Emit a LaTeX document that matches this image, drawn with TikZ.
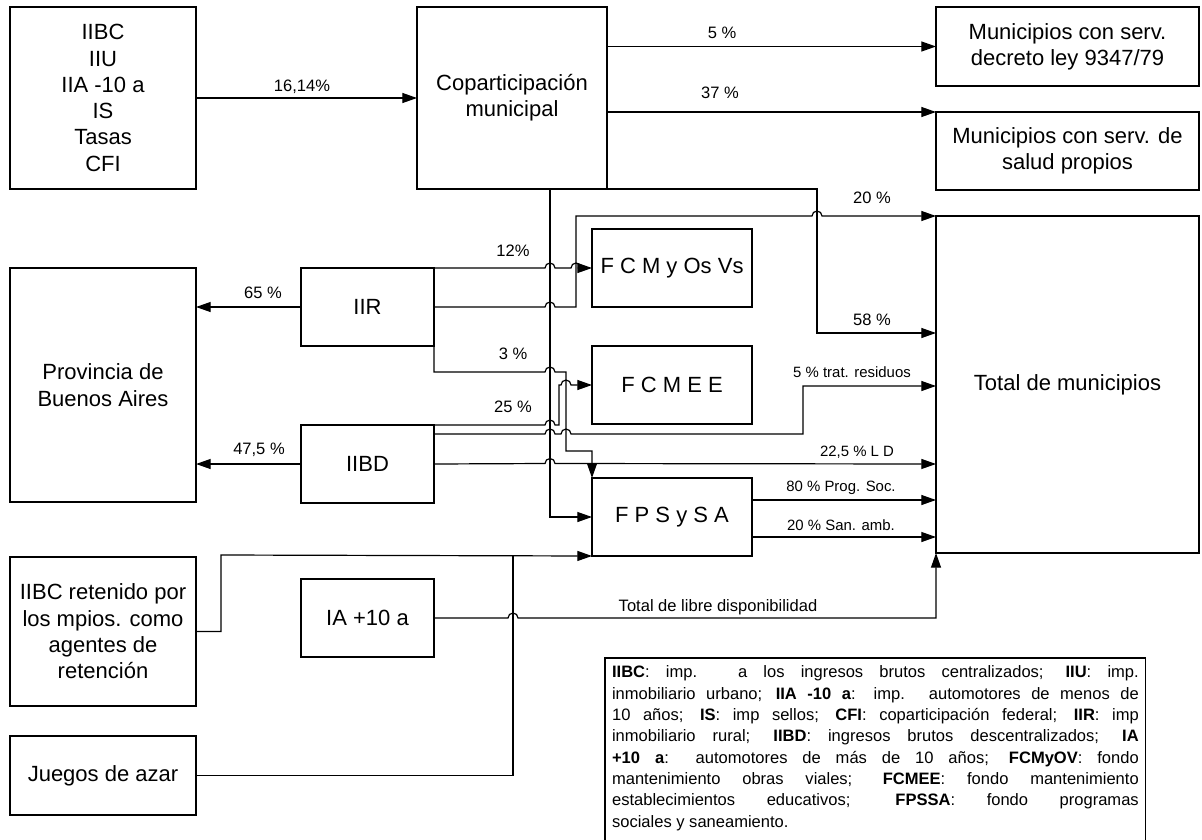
\documentclass[tikz,border=0pt]{standalone}
\usepackage{fontspec}
\setmainfont{Liberation Sans}
\usetikzlibrary{positioning}
\usetikzlibrary{arrows.meta}

\tikzset{
  box/.style={draw, line width=1.4pt, outer sep=0pt, inner sep=2pt, align=center,
    font=\fontsize{16.5}{19.7}\selectfont},
  bigbox/.style={box, minimum width=139.5pt},
  smallbox/.style={box, minimum width=99.75pt, minimum height=58.5pt},
  fondo/.style={box, minimum width=120pt, minimum height=58.5pt},
  munbox/.style={box, minimum width=197.25pt, minimum height=59.25pt},
  conn/.style={line width=0.9pt},
  arr/.style={conn, -{Triangle[length=11pt,width=7.5pt]}},
  lbl/.style={font=\fontsize{12.4}{14}\selectfont, inner sep=1pt},
  slbl/.style={font=\fontsize{11.2}{13}\selectfont, inner sep=1pt},
  legend/.style={text width=395pt, inner xsep=5.3pt, inner ysep=6pt, outer sep=0pt, align=justify,
    font=\fontsize{12.4}{16}\selectfont},
}
\newcommand{\hop}{arc[start angle=180, end angle=0, radius=3.75pt]}

\begin{document}
\begin{tikzpicture}[x=0.75pt, y=-0.75pt]
    \useasboundingbox (0,0) rectangle (1202,839);
    \clip (0,0) rectangle (1202,839);

    \node[bigbox, minimum height=136.5pt] (src) at (103,98) {IIBC\\IIU\\IIA -10 a\\IS\\Tasas\\CFI};
    \node[box, minimum width=142.5pt, minimum height=136.5pt, right=165.75pt of src] (copart) {Coparticipación\\municipal};
    \node[bigbox, minimum height=175.5pt, below=59.25pt of src] (prov) {Provincia de\\Buenos Aires};
    \node[smallbox, right=78.75pt of prov.north east, anchor=north west] (iir) {IIR};
    \node[smallbox, below=59.25pt of iir] (iibd) {IIBD};
    \node[smallbox, below=57pt of iibd] (ia) {IA +10 a};
    \node[bigbox, minimum height=111.75pt, below=41.25pt of prov] (ibcret) {IIBC retenido por\\los mpios. como\\agentes de\\retención};
    \node[bigbox, minimum height=59.25pt, below=22.5pt of ibcret] (juegos) {Juegos de azar};
    \node[fondo, right=118.5pt of iir.north east] (fcmov) {F C M y Os Vs};
    \node[fondo, below=29.25pt of fcmov] (fcmee) {F C M E E};
    \node[fondo, below=40.5pt of fcmee] (fpssa) {F P S y S A};
    \node[munbox, right=246.75pt of copart.north east, anchor=north west] (mun1) {Municipios con serv.\\decreto ley 9347/79};
    \node[munbox, minimum height=58.5pt, below=19.5pt of mun1] (mun2) {Municipios con serv. de\\salud propios};
    \node[munbox, minimum height=252.75pt, below=19.5pt of mun2] (total) {Total de municipios};
    \node[legend, anchor=north west] (leg) at (605,658) {\textbf{IIBC}: imp. a los ingresos brutos centralizados; \textbf{IIU}: imp.\linebreak
      inmobiliario urbano; \textbf{IIA -10 a}: imp. automotores de menos de\linebreak
      10 años; \textbf{IS}: imp sellos; \textbf{CFI}: coparticipación federal; \textbf{IIR}: imp\linebreak
      inmobiliario rural; \textbf{IIBD}: ingresos brutos descentralizados; \textbf{IA}\linebreak
      \textbf{+10 a}: automotores de más de 10 años; \textbf{FCMyOV}: fondo\linebreak
      mantenimiento obras viales; \textbf{FCMEE}: fondo mantenimiento\linebreak
      establecimientos educativos; \textbf{FPSSA}: fondo programas\linebreak
      sociales y saneamiento.};
    \draw[line width=0.9pt] (leg.north west) rectangle (leg.east |- 0,850);

    % Connect the nodes
    \draw[arr] (src) -- (copart) ; %
    \draw[arr] (copart.east |- mun1.west) -- (mun1.west) ; %
    \draw[arr] (copart.east |- mun2.north west) -- (mun2.north west) ; %
    \draw[arr] (copart.south east) -- (817,189) |- (total.west |- 0,333) ; %
    \draw[arr] (copart.south -| 550,0) |- (fpssa.west) ; %
    \draw[arr] (iir.north east) -- (545,268) \hop -- (571,268) \hop -- (fcmov.west) ; %
    \draw[arr] (iir.east) -- (545,307) \hop -- (576,307) -- (576,216) -- (812,216) \hop -- (total.north west) ; %
    \draw[arr] (iir) -- (prov.east |- iir) ; %
    \draw[arr] (iir.south east) -- (434,372) -- (545,372) \hop -- (566,372) -- (566,451) -| (fpssa.north west) ; %
    \draw[arr] (iibd.north east) -- (545,425) \hop -- (559,425) -- (559,385) -- (561,385) \hop -- (fcmee.west) ; %
    \draw[arr] (iibd.east |- 0,434) -- (545,434) \hop -- (561,434) \hop -- (803,434) |- (total.west |- 0,386) ; %
    \draw[arr] (iibd.east) -- (545,463.5) \hop -- (total.west |- iibd.east) ; %
    \draw[arr] (iibd) -- (prov.east |- iibd) ; %
    \draw[arr] (fpssa.east |- 0,500) -- (total.west |- 0,500) ; %
    \draw[arr] (fpssa.east |- 0,537) -- (total.west |- 0,537) ; %
    \draw[arr] (ibcret.east) -| (221,555) -- (fpssa.south west) ; %
    \draw[conn] (juegos.east) -| (513,555) ; %
    \draw[arr] (ia.east) -- (508,618) \hop -| (total.south west) ; %

    % Labels
    \node[lbl] (l1614) at (302,87) {16,14\%};
    \node[lbl] (l5) at (722,33) {5 \%};
    \node[lbl] (l37) at (720,93) {37 \%};
    \node[lbl] (l20) at (872,198) {20 \%};
    \node[lbl] (l58) at (872,320) {58 \%};
    \node[lbl] (l12) at (513,251) {12\%};
    \node[lbl] (l3) at (513,354) {3 \%};
    \node[lbl] (l25) at (513,407) {25 \%};
    \node[lbl] (l65) at (263,293) {65 \%};
    \node[lbl] (l475) at (259,450) {47,5 \%};
    \node[slbl] (lres) at (852,372) {5 \% trat. residuos};
    \node[slbl] (lld) at (857,452) {22,5 \% L D};
    \node[slbl] (lsoc) at (841,488) {80 \% Prog. Soc.};
    \node[slbl] (lsan) at (841,525) {20 \% San. amb.};
    \node[lbl] (llib) at (718,607) {Total de libre disponibilidad};
\end{tikzpicture}
\end{document}
